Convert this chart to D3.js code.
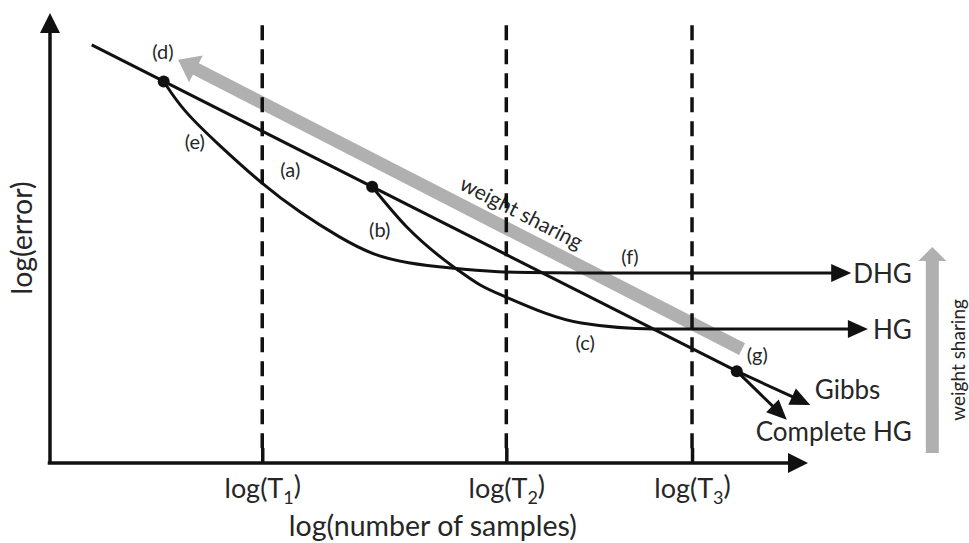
<!DOCTYPE html>
<html>
<head>
<meta charset="utf-8">
<script src="https://cdn.jsdelivr.net/npm/d3@7"></script>
<style>
body { margin: 0; background: #fff; }
text { font-family: Lato, "Open Sans", sans-serif; fill: #262626; }
</style>
</head>
<body>
<div id="chart"></div>
<script>
var width = 969, height = 543;

// schematic values, both axes in log units (0..10)
var thresholds = [2.80, 6.02, 8.47];
var thresholdSubs = ["1", "2", "3"];

var lineA = [[0.55, 9.29], [9.06, 2.04]];
var curveE = [[1.50, 8.48], [1.75, 7.84], [2.20, 7.11], [2.81, 6.18], [3.30, 5.56], [3.83, 5.00],
              [4.26, 4.62], [4.71, 4.44], [5.28, 4.33], [5.94, 4.24], [6.46, 4.22], [10.57, 4.22]];
var curveB = [[4.25, 6.14], [4.71, 5.24], [5.15, 4.58], [5.38, 4.29], [5.67, 3.96], [6.04, 3.67],
              [7.01, 3.11], [7.97, 2.98], [10.79, 2.98]];
var gibbs = [[9.06, 2.04], [10.03, 1.29]];
var completeHG = [[9.06, 2.04], [9.72, 0.96]];
var dots = [[1.50, 8.48], [4.25, 6.14], [9.06, 2.04]];

var curveLabels = ["(a)", "(b)", "(c)", "(d)", "(e)", "(f)", "(g)"];
var curveLabelX = [3.17, 4.35, 7.06, 1.49, 1.91, 7.65, 9.33];
var curveLabelY = [6.51, 5.18, 2.67, 9.13, 7.13, 4.58, 2.40];

var endLabels = ["DHG", "HG", "Gibbs", "Complete HG"];
var endLabelX = [11.37, 11.37, 10.09, 11.37];
var endLabelY = [4.20, 2.96, 1.62, 0.69];

var shareArrow = [[9.13, 2.53], [1.69, 8.96]];   // tail, tip
var shareBar = [[11.64, 0.22], [11.64, 4.80]];
var shareLabel = "weight sharing";

var x = d3.scaleLinear().domain([0, 10]).range([50, 808]);
var y = d3.scaleLinear().domain([0, 10]).range([463, 13]);

var svg = d3.select("#chart").append("svg")
    .attr("width", width)
    .attr("height", height);

var ink = "#111";
var grey = "#b0b0b0";

// draw a polyline / curve with a triangular head at its last point
function arrow(g, pts, opt) {
    var p = pts.map(function(d) { return [x(d[0]), y(d[1])]; });
    var n = p.length, tip = p[n - 1], prev = p[n - 2];
    var dx = tip[0] - prev[0], dy = tip[1] - prev[1];
    var l = Math.sqrt(dx * dx + dy * dy);
    var ux = dx / l, uy = dy / l;
    var cut = opt.len * 0.6;
    var q = p.slice(0, n - 1).concat([[tip[0] - ux * cut, tip[1] - uy * cut]]);
    var gen = d3.line();
    if (opt.curve) gen.curve(opt.curve);
    g.append("path")
        .attr("d", gen(q))
        .attr("fill", "none")
        .attr("stroke", opt.color)
        .attr("stroke-width", opt.stroke);
    var bx = tip[0] - ux * opt.len, by = tip[1] - uy * opt.len;
    var hw = opt.head / 2;
    g.append("path")
        .attr("d", "M" + tip[0] + "," + tip[1] +
            "L" + (bx - uy * hw) + "," + (by + ux * hw) +
            "L" + (bx + uy * hw) + "," + (by - ux * hw) + "Z")
        .attr("fill", opt.color);
}

// grey weight-sharing arrows (under the curves)
arrow(svg, shareArrow, {color: grey, stroke: 13, len: 20, head: 30});
arrow(svg, shareBar, {color: grey, stroke: 13, len: 14, head: 28});

var p0 = [x(shareArrow[0][0]), y(shareArrow[0][1])], p1 = [x(shareArrow[1][0]), y(shareArrow[1][1])];
var ang = Math.atan2(p0[1] - p1[1], p0[0] - p1[0]) * 180 / Math.PI;
svg.append("text")
    .attr("transform", "translate(" + x(6.22) + "," + y(5.56) + ") rotate(" + ang + ")")
    .attr("text-anchor", "middle")
    .attr("dy", "0.35em")
    .style("font-size", "21px")
    .text(shareLabel);

svg.append("text")
    .attr("transform", "translate(" + x(11.98) + "," + y(2.29) + ") rotate(-90)")
    .attr("text-anchor", "middle")
    .attr("dy", "0.35em")
    .style("font-size", "19px")
    .text(shareLabel);

// dashed threshold lines
svg.selectAll(".thresh")
    .data(thresholds)
    .enter().append("line")
    .attr("class", "thresh")
    .attr("x1", function(d) { return x(d); })
    .attr("x2", function(d) { return x(d); })
    .attr("y1", y(0.33))
    .attr("y2", y(9.84))
    .attr("stroke", ink)
    .attr("stroke-width", 3.5)
    .attr("stroke-dasharray", "15,9");

// x axis with log(T_i) ticks
var xAxis = d3.axisBottom(x)
    .tickValues(thresholds)
    .tickSizeInner(-15)
    .tickSizeOuter(0)
    .tickPadding(16)
    .tickFormat("");

var gx = svg.append("g")
    .attr("transform", "translate(0," + y(0) + ")")
    .attr("font-size", null)
    .attr("font-family", null)
    .call(xAxis);
gx.select(".domain").remove();
gx.selectAll(".tick line").attr("stroke", ink).attr("stroke-width", 3.5);
gx.selectAll(".tick text")
    .style("font-size", "27px")
    .each(function(d, i) {
        var t = d3.select(this);
        t.append("tspan").text("log(T");
        t.append("tspan").attr("dy", "0.3em").style("font-size", "18px").text(thresholdSubs[i]);
        t.append("tspan").attr("dy", "-0.3em").text(")");
    });

// axis lines with heads
arrow(svg, [[-0.03, 0], [10, 0]], {color: ink, stroke: 3.5, len: 20, head: 20});
arrow(svg, [[0, -0.01], [0, 10]], {color: ink, stroke: 3.5, len: 20, head: 20});

svg.append("text")
    .attr("x", x(5.05))
    .attr("y", 536)
    .attr("text-anchor", "middle")
    .style("font-size", "28.5px")
    .text("log(number of samples)");

svg.append("text")
    .attr("transform", "translate(22," + y(5.0) + ") rotate(-90)")
    .attr("text-anchor", "middle")
    .attr("dy", "0.35em")
    .style("font-size", "28.5px")
    .text("log(error)");

// curves
var line = d3.line()
    .x(function(d) { return x(d[0]); })
    .y(function(d) { return y(d[1]); });

svg.append("path")
    .datum(lineA)
    .attr("d", line)
    .attr("fill", "none")
    .attr("stroke", ink)
    .attr("stroke-width", 3);

arrow(svg, curveE, {color: ink, stroke: 3, len: 20, head: 18, curve: d3.curveBasis});
arrow(svg, curveB, {color: ink, stroke: 3, len: 20, head: 18, curve: d3.curveMonotoneX});
arrow(svg, gibbs, {color: ink, stroke: 3, len: 20, head: 18});
arrow(svg, completeHG, {color: ink, stroke: 3, len: 20, head: 18});

svg.selectAll(".dot")
    .data(dots)
    .enter().append("circle")
    .attr("class", "dot")
    .attr("cx", function(d) { return x(d[0]); })
    .attr("cy", function(d) { return y(d[1]); })
    .attr("r", 6)
    .attr("fill", ink);

// labels
svg.selectAll(".clabel")
    .data(curveLabels)
    .enter().append("text")
    .attr("class", "clabel")
    .attr("x", function(d, i) { return x(curveLabelX[i]); })
    .attr("y", function(d, i) { return y(curveLabelY[i]); })
    .attr("text-anchor", "middle")
    .attr("dy", "0.35em")
    .style("font-size", "20px")
    .text(function(d) { return d; });

svg.selectAll(".elabel")
    .data(endLabels)
    .enter().append("text")
    .attr("class", "elabel")
    .attr("x", function(d, i) { return x(endLabelX[i]); })
    .attr("y", function(d, i) { return y(endLabelY[i]); })
    .attr("text-anchor", function(d) { return d === "Gibbs" ? "start" : "end"; })
    .attr("dy", "0.36em")
    .style("font-size", "26px")
    .text(function(d) { return d; });
</script>
</body>
</html>
